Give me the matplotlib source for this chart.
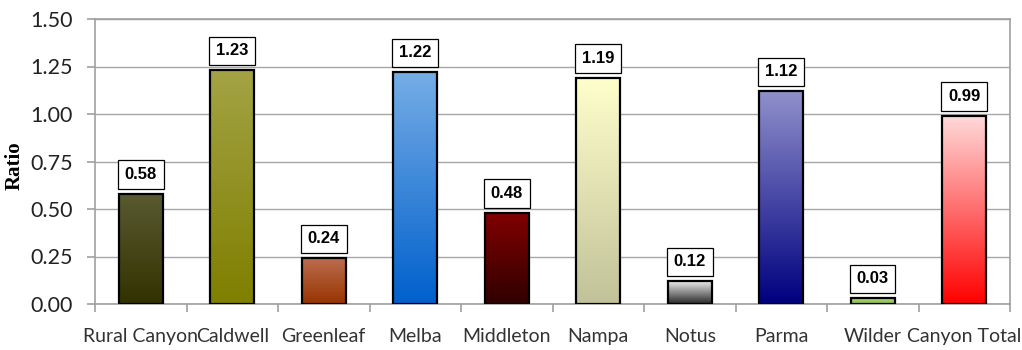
import numpy as np
import matplotlib
matplotlib.use("Agg")
import matplotlib.pyplot as plt
from matplotlib.colors import LinearSegmentedColormap

categories = ["Rural Canyon", "Caldwell", "Greenleaf", "Melba", "Middleton",
              "Nampa", "Notus", "Parma", "Wilder", "Canyon Total"]
ratios = [0.58, 1.23, 0.24, 1.22, 0.48, 1.19, 0.12, 1.12, 0.03, 0.99]
yticks = [0.00, 0.25, 0.50, 0.75, 1.00, 1.25, 1.50]

# gradient of every bar, top colour -> bottom colour
top_colors = ["#5a5a32", "#a3a345", "#bb6d4e", "#76ade6", "#820000",
              "#ffffcc", "#ececec", "#9090cc", "#a6d474", "#ffdada"]
bottom_colors = ["#323200", "#7f7f00", "#993300", "#0060cc", "#300000",
                 "#c2c29a", "#262626", "#000080", "#8cbf55", "#ff0000"]

fig = plt.figure(figsize=(10.22, 3.5), dpi=100)
ax = fig.add_axes([95 / 1022, 1 - 304 / 350, 915 / 1022, 285 / 350])

x = np.arange(len(categories))
width = 0.48
grad = np.linspace(0, 1, 256).reshape(-1, 1)

for i, val in enumerate(ratios):
    cmap = LinearSegmentedColormap.from_list("g%d" % i, [bottom_colors[i], top_colors[i]])
    ax.imshow(grad, extent=[x[i] - width / 2, x[i] + width / 2, 0, val],
              origin="lower", aspect="auto", cmap=cmap, zorder=2, interpolation="bilinear")
    ax.annotate("%.2f" % val, (x[i], val), xytext=(0, 14), textcoords="offset points",
                ha="center", va="center", fontsize=12, family="Liberation Sans",
                fontweight="bold",
                bbox=dict(boxstyle="square,pad=0.4", fc="white", ec="black", lw=0.9),
                zorder=5)

ax.bar(x, ratios, width=width, fill=False, edgecolor="black", linewidth=1.6, zorder=3)

ax.set_xlim(-0.5, len(categories) - 0.5)
ax.set_ylim(0, 1.5)
ax.set_yticks(yticks)
ax.set_yticklabels(["%.2f" % t for t in yticks])
ax.set_xticks(x)
ax.set_xticklabels(categories)
ax.set_xticks(np.arange(len(categories) + 1) - 0.5, minor=True)

ax.yaxis.grid(True, color="#a6a6a6", linewidth=1.0, zorder=0)
ax.set_axisbelow(True)
for s in ax.spines.values():
    s.set_color("#a0a0a0")
    s.set_linewidth(1.2)

ax.tick_params(axis="x", which="major", length=0, pad=17, labelsize=14, labelcolor="#333333")
ax.tick_params(axis="x", which="minor", length=6, color="#a0a0a0", width=1.2)
ax.tick_params(axis="y", length=6, color="#a0a0a0", width=1.2, pad=10, labelsize=15.5,
               labelcolor="#222222")
for lab in ax.get_xticklabels() + ax.get_yticklabels():
    lab.set_family("Lato")

fig.text(15 / 1022, 1 - 166 / 350, "Ratio", rotation=90, ha="center", va="center",
         fontsize=15, fontweight="bold", family="Liberation Serif")

fig.savefig("out.png", dpi=100)
